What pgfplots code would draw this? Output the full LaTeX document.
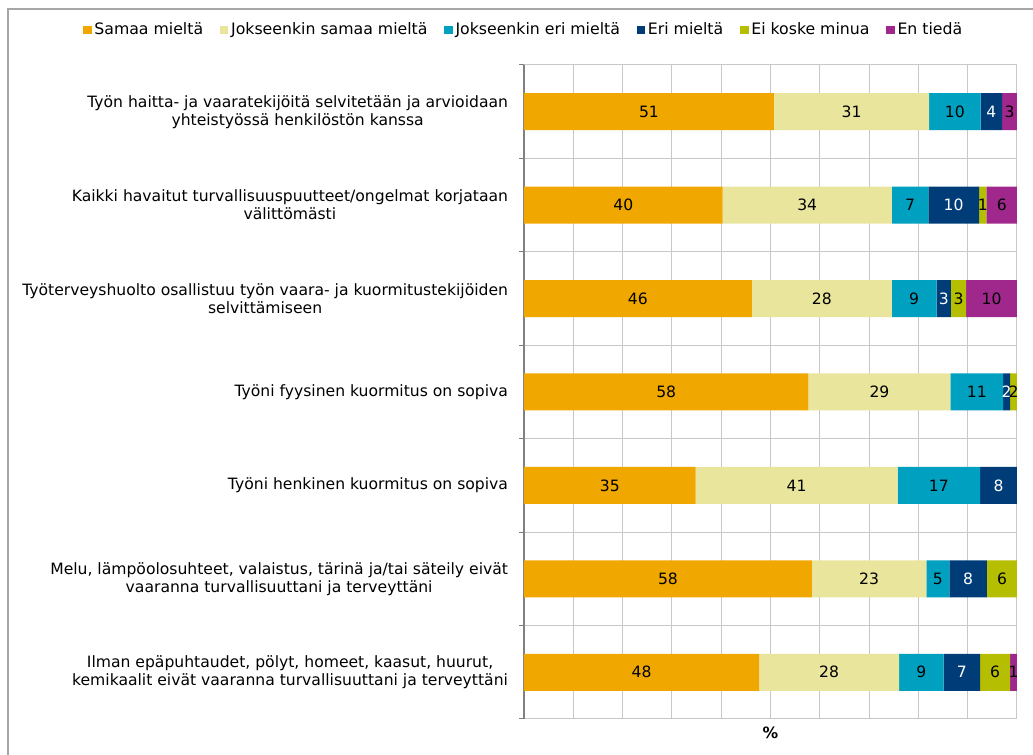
\documentclass[border=0pt]{standalone}
\usepackage{pgfplots}
\pgfplotsset{compat=1.18}
\usepackage{pgfplotstable}
\usepackage{fontspec}
\setmainfont{DejaVu Sans}

\definecolor{samaa}{RGB}{240,168,0}
\definecolor{jsamaa}{RGB}{233,229,156}
\definecolor{jeri}{RGB}{0,160,192}
\definecolor{eri}{RGB}{0,61,120}
\definecolor{eikoske}{RGB}{181,190,0}
\definecolor{entieda}{RGB}{160,40,140}
\definecolor{gridc}{RGB}{200,200,200}

% y=6 is the top statement; a..f are the shares, la..lf the printed labels
\pgfplotstableread{
y a    b    c    d    e   f    la lb lc ld le lf
6 50.7 31.5 10.4 4.4  0   3.0  51 31 10 4  {} 3
5 40.3 34.3 7.4  10.3 1.5 6.2  40 34 7  10 1  6
4 46.2 28.4 9.1  2.9  3.1 10.3 46 28 9  3  3  10
3 57.7 28.8 10.7 1.4  1.4 0    58 29 11 2  2  {}
2 34.8 41.0 16.7 7.5  0   0    35 41 17 8  {} {}
1 58.4 23.2 4.7  7.6  6.1 0    58 23 5  8  6  {}
0 47.7 28.4 9.0  7.4  6.1 1.4  48 28 9  7  6  1
}\data

\pgfplotsset{
  base/.style={
    scale only axis, width=369.75pt, height=490.5pt,
    xmin=0, xmax=100, ymin=-0.5, ymax=6.5,
  },
  lbl/.style={only marks, mark=*, mark size=0pt, draw=none, fill=none,
    nodes near coords, color=black},
}

\begin{document}
\begin{tikzpicture}[font=\fontsize{11.7}{13.5}\selectfont]
\begin{axis}[base,
  xbar stacked, bar width=27.75pt,
  every axis plot post/.append style={draw=none,
    legend image code/.code={\fill[##1] (0pt,-3.2pt) rectangle (6.5pt,3.2pt);}},
  axis x line*=bottom, axis y line*=left,
  x axis line style={gridc, line width=0.75pt},
  y axis line style={gray, line width=0.9pt},
  xtick={0,10,...,100}, xticklabels={}, xmajorgrids,
  ytick={0,...,6},
  yticklabels={
    {Ilman epäpuhtaudet, pölyt, homeet, kaasut, huurut,\\kemikaalit eivät vaaranna turvallisuuttani ja terveyttäni},
    {Melu, lämpöolosuhteet, valaistus, tärinä ja/tai säteily eivät\\vaaranna turvallisuuttani ja terveyttäni},
    {Työni henkinen kuormitus on sopiva},
    {Työni fyysinen kuormitus on sopiva},
    {Työterveyshuolto osallistuu työn vaara- ja kuormitustekijöiden\\selvittämiseen},
    {Kaikki havaitut turvallisuuspuutteet/ongelmat korjataan\\välittömästi},
    {Työn haitta- ja vaaratekijöitä selvitetään ja arvioidaan\\yhteistyössä henkilöstön kanssa}},
  yticklabel style={align=center, xshift=-8.5pt},
  minor ytick={-0.5,0.5,...,6.5}, yminorgrids,
  major tick length=0pt, minor tick length=3.5pt, tick align=outside,
  minor tick style={gray, line width=0.75pt},
  grid style={gridc, line width=0.75pt},
  minor grid style={gridc, line width=0.75pt},
  xlabel={\textbf{\%}},
  every axis x label/.style={at={(axis description cs:0.5,0)}, anchor=center, yshift=-10pt},
  legend columns=6,
  legend style={draw=none, at={(0,1.0535)}, anchor=center,
    font=\fontsize{11.8}{13.5}\selectfont,
    /tikz/every even column/.append style={column sep=10.5pt}},
]
\addplot[fill=samaa]   table[x=a, y=y] {\data};
\addplot[fill=jsamaa]  table[x=b, y=y] {\data};
\addplot[fill=jeri]    table[x=c, y=y] {\data};
\addplot[fill=eri]     table[x=d, y=y] {\data};
\addplot[fill=eikoske] table[x=e, y=y] {\data};
\addplot[fill=entieda] table[x=f, y=y] {\data};
\legend{Samaa mieltä, Jokseenkin samaa mieltä, Jokseenkin eri mieltä, Eri mieltä, Ei koske minua, En tiedä}
\end{axis}

% labels centred on each segment
\begin{axis}[base, hide axis, point meta=explicit symbolic,
  every node near coord/.append style={anchor=center, text=black}]
\addplot[lbl] table[x expr=\thisrow{a}/2, y=y, meta=la] {\data};
\addplot[lbl] table[x expr=\thisrow{a}+\thisrow{b}/2, y=y, meta=lb] {\data};
\addplot[lbl] table[x expr=\thisrow{a}+\thisrow{b}+\thisrow{c}/2, y=y, meta=lc] {\data};
\addplot[lbl, every node near coord/.append style={text=white}]
  table[x expr=\thisrow{a}+\thisrow{b}+\thisrow{c}+\thisrow{d}/2, y=y, meta=ld] {\data};
\addplot[lbl] table[x expr=\thisrow{a}+\thisrow{b}+\thisrow{c}+\thisrow{d}+\thisrow{e}/2, y=y, meta=le] {\data};
\addplot[lbl] table[x expr=\thisrow{a}+\thisrow{b}+\thisrow{c}+\thisrow{d}+\thisrow{e}+\thisrow{f}/2, y=y, meta=lf] {\data};
\end{axis}

\draw[gray!70, line width=1pt] (-387pt,-40pt) -- (-387pt,532.5pt) -- (400pt,532.5pt);
\pgfresetboundingbox
\path[use as bounding box] (-393pt,-27pt) rectangle (381.75pt,539.25pt);
\end{tikzpicture}
\end{document}
